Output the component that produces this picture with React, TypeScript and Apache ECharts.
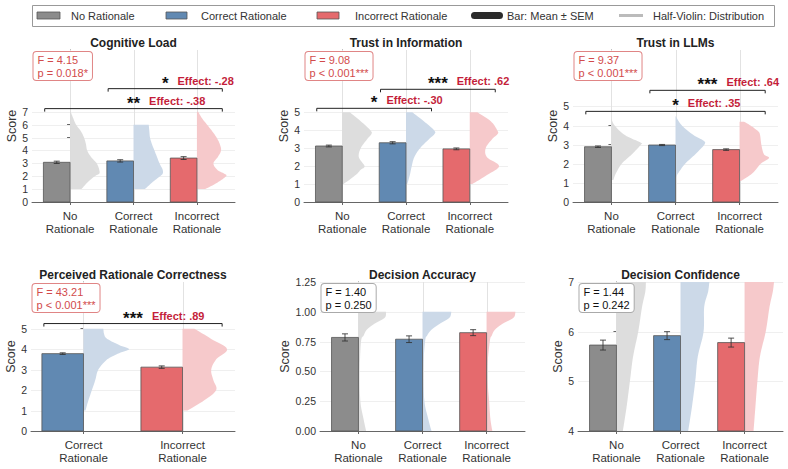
import React, { useEffect, useRef } from "react";
import * as echarts from "echarts";

const FONT = "'Liberation Sans', Arial, Helvetica, sans-serif";

// ---------- categories ----------
const threeGroups = ["No\nRationale", "Correct\nRationale", "Incorrect\nRationale"];
const twoGroups = ["Correct\nRationale", "Incorrect\nRationale"];

// ---------- colours ----------
const barColors = ["#8c8c8c", "#6189b2", "#e56a6d"];
const violinColors = ["#dbdbdb", "#c9d7e7", "#f5c6c8"];

// ---------- Cognitive Load ----------
const cogMeans = [3.08, 3.19, 3.41];
const cogSem = [0.09, 0.09, 0.11];
const cogViolinNo = [[7, 0.01], [6.5, 0.05], [6, 0.095], [5.5, 0.17], [5, 0.22], [4.5, 0.25], [4, 0.27], [3.5, 0.33], [3, 0.42], [2.5, 0.46], [2.2, 0.46], [2, 0.39], [1.5, 0.27], [1, 0.18]];
const cogViolinCorrect = [[6, 0.24], [5.5, 0.25], [5, 0.26], [4.5, 0.29], [4, 0.33], [3.5, 0.37], [3, 0.41], [2.5, 0.46], [2.2, 0.46], [2, 0.42], [1.5, 0.29], [1, 0.18]];
const cogViolinIncorrect = [[7, 0.02], [6.5, 0.08], [6, 0.16], [5.5, 0.24], [5, 0.31], [4.5, 0.36], [4, 0.38], [3.5, 0.33], [3, 0.26], [2.5, 0.32], [2.2, 0.43], [2, 0.46], [1.5, 0.32], [1, 0.13]];
const cogStats = ["F = 4.15", "p = 0.018*"];
const cogBrackets = [
  { a: 1, b: 2, y: 8.8, stars: "*", effect: "Effect: -.28" },
  { a: 0, b: 2, y: 7.25, stars: "**", effect: "Effect: -.38" },
];

// ---------- Trust in Information ----------
const infoMeans = [3.12, 3.3, 2.96];
const infoSem = [0.05, 0.06, 0.05];
const infoViolinNo = [[5, 0.12], [4.5, 0.29], [4, 0.44], [3.8, 0.46], [3.5, 0.39], [3, 0.29], [2.5, 0.26], [2, 0.35], [1.8, 0.29], [1.5, 0.21], [1, 0.02]];
const infoViolinCorrect = [[5, 0.1], [4.5, 0.28], [4, 0.44], [3.8, 0.45], [3.5, 0.36], [3, 0.22], [2.5, 0.13], [2, 0.09], [1.5, 0.06], [1, 0.02]];
const infoViolinIncorrect = [[5, 0.12], [4.5, 0.33], [4, 0.43], [3.8, 0.44], [3.5, 0.35], [3, 0.25], [2.5, 0.27], [2, 0.46], [1.5, 0.27], [1, 0.04]];
const infoStats = ["F = 9.08", "p < 0.001***"];
const infoBrackets = [
  { a: 1, b: 2, y: 6.28, stars: "***", effect: "Effect: .62" },
  { a: 0, b: 1, y: 5.22, stars: "*", effect: "Effect: -.30" },
];

// ---------- Trust in LLMs ----------
const llmMeans = [2.89, 2.98, 2.74];
const llmSem = [0.04, 0.03, 0.04];
const llmViolinNo = [[4.35, 0.0], [4, 0.05], [3.5, 0.21], [3.1, 0.46], [3, 0.46], [2.5, 0.32], [2, 0.16], [1.5, 0.07], [1.15, 0.03]];
const llmViolinCorrect = [[4.5, 0.0], [4, 0.1], [3.5, 0.28], [3.2, 0.44], [3, 0.45], [2.5, 0.31], [2, 0.15], [1.5, 0.04], [1.3, 0.01]];
const llmViolinIncorrect = [[4.2, 0.07], [4, 0.17], [3.7, 0.29], [3.5, 0.32], [3, 0.34], [2.5, 0.38], [2.3, 0.46], [2, 0.33], [1.5, 0.2], [1.1, 0.02]];
const llmStats = ["F = 9.37", "p < 0.001***"];
const llmBrackets = [
  { a: 1, b: 2, y: 5.84, stars: "***", effect: "Effect: .64" },
  { a: 0, b: 2, y: 4.74, stars: "*", effect: "Effect: .35" },
];

// ---------- Perceived Rationale Correctness ----------
const percMeans = [3.78, 3.12];
const percSem = [0.04, 0.06];
const percViolinCorrect = [[5, 0.2], [4.7, 0.21], [4.5, 0.24], [4.2, 0.36], [4, 0.46], [3.8, 0.36], [3.5, 0.24], [3, 0.15], [2.5, 0.12], [2, 0.085], [1.5, 0.05], [1, 0.02]];
const percViolinIncorrect = [[5, 0.12], [4.5, 0.29], [4, 0.45], [3.5, 0.34], [3, 0.29], [2.5, 0.31], [2, 0.34], [1.5, 0.22], [1, 0.05]];
const percStats = ["F = 43.21", "p < 0.001***"];
const percBrackets = [{ a: 0, b: 1, y: 5.25, stars: "***", effect: "Effect: .89" }];

// ---------- Decision Accuracy ----------
const accMeans = [0.785, 0.77, 0.825];
const accSem = [0.03, 0.028, 0.025];
const accViolinNo = [[1, 0.43], [0.95, 0.41], [0.9, 0.25], [0.85, 0.13], [0.8, 0.08], [0.75, 0.04], [0.5, 0.02], [0.25, 0.03], [0.1, 0.08], [0, 0.12]];
const accViolinCorrect = [[1, 0.45], [0.95, 0.42], [0.9, 0.27], [0.85, 0.14], [0.8, 0.07], [0.75, 0.04], [0.5, 0.01], [0.25, 0.03], [0.1, 0.09], [0, 0.14]];
const accViolinIncorrect = [[1, 0.45], [0.95, 0.42], [0.9, 0.25], [0.85, 0.13], [0.8, 0.08], [0.75, 0.05], [0.5, 0.01], [0.25, 0.04], [0.1, 0.06], [0, 0.09]];
const accStats = ["F = 1.40", "p = 0.250"];

// ---------- Decision Confidence ----------
const confMeans = [5.73, 5.92, 5.78];
const confSem = [0.1, 0.08, 0.09];
const confViolinNo = [[7, 0.46], [6.8, 0.45], [6.5, 0.4], [6, 0.34], [5.5, 0.26], [5, 0.21], [4.5, 0.16], [4, 0.1]];
const confViolinCorrect = [[7, 0.45], [6.8, 0.43], [6.5, 0.37], [6, 0.36], [5.5, 0.27], [5, 0.23], [4.5, 0.18], [4, 0.12]];
const confViolinIncorrect = [[7, 0.46], [6.8, 0.44], [6.5, 0.39], [6, 0.33], [5.5, 0.24], [5, 0.2], [4.5, 0.17], [4, 0.14]];
const confStats = ["F = 1.44", "p = 0.242"];

// ---------- tick labels ----------
const cogTicks = [0, 1, 2, 3, 4, 5, 6, 7];
const fiveTicks = [0, 1, 2, 3, 4, 5];
const accTicks = [0, 0.25, 0.5, 0.75, 1, 1.25];
const confTicks = [4, 5, 6, 7];

type Panel = {
  title: string;
  grid: { left: number; top: number; width: number; height: number };
  xMin: number; xMax: number; yMin: number; yMax: number;
  yTicks: number[]; yFmt: (v: number) => string; nameGap: number;
  cats: string[]; colorIdx: number[];
  means: number[]; sem: number[]; violins: number[][][];
  stats: string[]; significant: boolean; brackets: any[];
};

const int = (v: number) => String(v);
const two = (v: number) => v.toFixed(2);

const panels: Panel[] = [
  { title: "Cognitive Load", grid: { left: 32, top: 50, width: 203, height: 152 }, xMin: -0.6, xMax: 2.6, yMin: 0, yMax: 11.8,
    yTicks: cogTicks, yFmt: int, nameGap: 12, cats: threeGroups, colorIdx: [0, 1, 2], means: cogMeans, sem: cogSem,
    violins: [cogViolinNo, cogViolinCorrect, cogViolinIncorrect], stats: cogStats, significant: true, brackets: cogBrackets },
  { title: "Trust in Information", grid: { left: 304, top: 50, width: 204, height: 152 }, xMin: -0.6, xMax: 2.6, yMin: 0, yMax: 8.47,
    yTicks: fiveTicks, yFmt: int, nameGap: 12, cats: threeGroups, colorIdx: [0, 1, 2], means: infoMeans, sem: infoSem,
    violins: [infoViolinNo, infoViolinCorrect, infoViolinIncorrect], stats: infoStats, significant: true, brackets: infoBrackets },
  { title: "Trust in LLMs", grid: { left: 573, top: 50, width: 205, height: 152 }, xMin: -0.6, xMax: 2.6, yMin: 0, yMax: 7.95,
    yTicks: fiveTicks, yFmt: int, nameGap: 12, cats: threeGroups, colorIdx: [0, 1, 2], means: llmMeans, sem: llmSem,
    violins: [llmViolinNo, llmViolinCorrect, llmViolinIncorrect], stats: llmStats, significant: true, brackets: llmBrackets },
  { title: "Perceived Rationale Correctness", grid: { left: 31, top: 282, width: 204, height: 149 }, xMin: -0.53, xMax: 1.53, yMin: 0, yMax: 7.28,
    yTicks: fiveTicks, yFmt: int, nameGap: 12, cats: twoGroups, colorIdx: [1, 2], means: percMeans, sem: percSem,
    violins: [percViolinCorrect, percViolinIncorrect], stats: percStats, significant: true, brackets: percBrackets },
  { title: "Decision Accuracy", grid: { left: 320, top: 282, width: 205, height: 149 }, xMin: -0.6, xMax: 2.6, yMin: 0, yMax: 1.25,
    yTicks: accTicks, yFmt: two, nameGap: 26, cats: threeGroups, colorIdx: [0, 1, 2], means: accMeans, sem: accSem,
    violins: [accViolinNo, accViolinCorrect, accViolinIncorrect], stats: accStats, significant: false, brackets: [] },
  { title: "Decision Confidence", grid: { left: 578, top: 282, width: 205, height: 149 }, xMin: -0.6, xMax: 2.6, yMin: 4, yMax: 7,
    yTicks: confTicks, yFmt: int, nameGap: 12, cats: threeGroups, colorIdx: [0, 1, 2], means: confMeans, sem: confSem,
    violins: [confViolinNo, confViolinCorrect, confViolinIncorrect], stats: confStats, significant: false, brackets: [] },
];

const BAR_W = 0.42;

// Catmull-Rom smoothing of a violin outline (rendering only; the profile points stay as read)
function smoothOutline(prof: number[][], steps = 8): number[][] {
  const out: number[][] = [];
  const n = prof.length;
  for (let i = 0; i < n - 1; i++) {
    const p0 = prof[Math.max(0, i - 1)], p1 = prof[i], p2 = prof[i + 1], p3 = prof[Math.min(n - 1, i + 2)];
    for (let s = 0; s < steps; s++) {
      const t = s / steps, t2 = t * t, t3 = t2 * t;
      const f = (a: number, b: number, c: number, d: number) =>
        0.5 * (2 * b + (-a + c) * t + (2 * a - 5 * b + 4 * c - d) * t2 + (-a + 3 * b - 3 * c + d) * t3);
      out.push([f(p0[0], p1[0], p2[0], p3[0]), Math.max(0, f(p0[1], p1[1], p2[1], p3[1]))]);
    }
  }
  out.push(prof[n - 1]);
  return out;
}

function buildOption() {
  const grid: any[] = [];
  const xAxis: any[] = [];
  const yAxis: any[] = [];
  const series: any[] = [];
  const graphic: any[] = [];

  panels.forEach((p, k) => {
    grid.push({ ...p.grid, containLabel: false });
    const catVals = p.cats.map((_, i) => i);
    xAxis.push({
      gridIndex: k, type: "value", min: p.xMin, max: p.xMax,
      axisLine: { show: true, lineStyle: { color: "#666", width: 1 } },
      axisTick: { show: true, customValues: catVals, length: 3, lineStyle: { color: "#666" } },
      axisLabel: { show: true, customValues: catVals, formatter: (v: number) => p.cats[Math.round(v)] ?? "",
        fontFamily: FONT, fontSize: 11.5, color: "#333", lineHeight: 13.5, margin: 7 },
      splitLine: { show: false },
    });
    yAxis.push({
      gridIndex: k, type: "value", min: p.yMin, max: p.yMax,
      name: "Score", nameLocation: "middle", nameGap: p.nameGap, nameRotate: 90,
      nameTextStyle: { fontFamily: FONT, fontSize: 12.5, color: "#333" },
      axisLine: { show: true, lineStyle: { color: "#666", width: 1 } },
      axisTick: { show: true, customValues: p.yTicks, length: 3, lineStyle: { color: "#666" } },
      axisLabel: { show: true, customValues: p.yTicks, formatter: (v: number) => p.yFmt(v),
        fontFamily: FONT, fontSize: 10.5, color: "#333", margin: 4 },
      splitLine: { show: false },
    });

    // background grid lines
    series.push({
      type: "custom", xAxisIndex: k, yAxisIndex: k, z: 1, silent: true,
      data: [[0, p.yMin]],
      renderItem: (params: any, api: any) => {
        const cs = params.coordSys;
        const children: any[] = [];
        p.yTicks.forEach((t) => {
          if (t === p.yMin) return;
          const c = api.coord([p.xMin, t]);
          const yy = Math.round(c[1]) + 0.5;
          children.push({ type: "line", shape: { x1: cs.x, y1: yy, x2: cs.x + cs.width, y2: yy },
            style: { stroke: "#efefef", lineWidth: 1 } });
        });
        p.cats.forEach((_, i) => {
          const c = api.coord([i, p.yMin]);
          const xx = Math.round(c[0]) + 0.5;
          children.push({ type: "line", shape: { x1: xx, y1: cs.y, x2: xx, y2: cs.y + cs.height },
            style: { stroke: "#e2e2e2", lineWidth: 1 } });
        });
        return { type: "group", children };
      },
    });

    // half violins
    series.push({
      type: "custom", xAxisIndex: k, yAxisIndex: k, z: 2, silent: true,
      data: p.cats.map((_, i) => [i, p.yMin]),
      renderItem: (params: any, api: any) => {
        const i = params.dataIndex;
        const prof = smoothOutline(p.violins[i]);
        const pts: number[][] = [];
        pts.push(api.coord([i, prof[0][0]]));
        prof.forEach(([y, w]) => pts.push(api.coord([i + w, y])));
        pts.push(api.coord([i, prof[prof.length - 1][0]]));
        return { type: "polygon", shape: { points: pts },
          style: { fill: violinColors[p.colorIdx[i]], stroke: "none", opacity: 0.95 } };
      },
    });

    // bars + error bars
    series.push({
      type: "custom", xAxisIndex: k, yAxisIndex: k, z: 3, silent: true,
      data: p.means.map((m, i) => [i, m, p.sem[i]]),
      renderItem: (params: any, api: any) => {
        const i = api.value(0), m = api.value(1), s = api.value(2);
        const tl = api.coord([i - BAR_W, m]);
        const br = api.coord([i, p.yMin]);
        const xc = i - BAR_W / 2;
        const et = api.coord([xc, m + s]);
        const eb = api.coord([xc, m - s]);
        const col = barColors[p.colorIdx[params.dataIndex]];
        const errStyle = { stroke: "#333", lineWidth: 1, opacity: 0.85 };
        return {
          type: "group",
          children: [
            { type: "rect", shape: { x: tl[0], y: tl[1], width: br[0] - tl[0], height: br[1] - tl[1] },
              style: { fill: col, stroke: "#555", lineWidth: 0.8 } },
            { type: "line", shape: { x1: et[0], y1: et[1], x2: eb[0], y2: eb[1] }, style: errStyle },
            { type: "line", shape: { x1: et[0] - 3, y1: et[1], x2: et[0] + 3, y2: et[1] }, style: errStyle },
            { type: "line", shape: { x1: eb[0] - 3, y1: eb[1], x2: eb[0] + 3, y2: eb[1] }, style: errStyle },
          ],
        };
      },
    });

    // significance brackets
    if (p.brackets.length) {
      series.push({
        type: "custom", xAxisIndex: k, yAxisIndex: k, z: 4, silent: true,
        data: p.brackets.map((b, j) => [j, b.y]),
        renderItem: (params: any, api: any) => {
          const b = p.brackets[params.dataIndex];
          const l = api.coord([b.a - 0.4, b.y]);
          const r = api.coord([b.b + 0.4, b.y]);
          const mid = api.coord([(b.a + b.b) / 2, b.y]);
          const n = b.stars.length;
          return {
            type: "group",
            children: [
              { type: "polyline", shape: { points: [[l[0], l[1] + 3], [l[0], l[1]], [r[0], r[1]], [r[0], r[1] + 3]] },
                style: { stroke: "#222", lineWidth: 1, fill: "none" } },
              { type: "text", x: mid[0], y: mid[1] + 3,
                style: { text: b.stars, fill: "#111", fontFamily: FONT, fontSize: 17, fontWeight: "bold",
                  align: "center", verticalAlign: "bottom" } },
              { type: "text", x: mid[0] + 9 + 3.3 * n, y: mid[1] - 8,
                style: { text: b.effect, fill: "#c41e3a", fontFamily: FONT, fontSize: 11, fontWeight: "bold",
                  align: "left", verticalAlign: "middle" } },
            ],
          };
        },
      });
    }

    // stats box
    series.push({
      type: "custom", xAxisIndex: k, yAxisIndex: k, z: 5, silent: true,
      data: [[p.xMin, p.yMax]],
      renderItem: (params: any, api: any) => {
        const c = api.coord([p.xMin, p.yMax]);
        return {
          type: "text", x: c[0] + 1.5, y: c[1] + 2,
          style: {
            text: p.stats.join("\n"), fill: p.significant ? "#d24b4b" : "#111",
            fontFamily: FONT, fontSize: 11, lineHeight: 12.5, align: "left", verticalAlign: "top",
            backgroundColor: "#ffffff", borderColor: p.significant ? "#e08585" : "#aaaaaa", borderWidth: 1,
            borderRadius: 3, padding: [2, 4, 1, 4],
          },
        };
      },
    });

    // title
    graphic.push({
      type: "text", x: p.grid.left + p.grid.width / 2, y: p.grid.top - 7,
      style: { text: p.title, fontFamily: FONT, fontSize: 12, fontWeight: "bold", fill: "#222",
        align: "center", verticalAlign: "middle" },
    });
  });

  // legend
  const legendY = 15.5;
  graphic.push(
    { type: "rect", shape: { x: 32.5, y: 5.5, width: 742, height: 21 }, style: { fill: "#fff", stroke: "#999", lineWidth: 1 } },
    { type: "rect", shape: { x: 37, y: 12, width: 23, height: 7 }, style: { fill: barColors[0], stroke: "#555", lineWidth: 0.8 } },
    { type: "text", x: 71, y: legendY, style: { text: "No Rationale", fontFamily: FONT, fontSize: 11, fill: "#333", verticalAlign: "middle" } },
    { type: "rect", shape: { x: 166, y: 12, width: 21, height: 7 }, style: { fill: barColors[1], stroke: "#555", lineWidth: 0.8 } },
    { type: "text", x: 201, y: legendY, style: { text: "Correct Rationale", fontFamily: FONT, fontSize: 11, fill: "#333", verticalAlign: "middle" } },
    { type: "rect", shape: { x: 317, y: 12, width: 22, height: 7 }, style: { fill: barColors[2], stroke: "#555", lineWidth: 0.8 } },
    { type: "text", x: 355, y: legendY, style: { text: "Incorrect Rationale", fontFamily: FONT, fontSize: 11, fill: "#333", verticalAlign: "middle" } },
    { type: "rect", shape: { x: 471, y: 12, width: 32, height: 7, r: 3.5 }, style: { fill: "#2b2b2b" } },
    { type: "text", x: 507, y: legendY, style: { text: "Bar: Mean ± SEM", fontFamily: FONT, fontSize: 11, fill: "#333", verticalAlign: "middle" } },
    { type: "line", shape: { x1: 619, y1: legendY, x2: 643, y2: legendY }, style: { stroke: "#bbb", lineWidth: 3 } },
    { type: "text", x: 653, y: legendY, style: { text: "Half-Violin: Distribution", fontFamily: FONT, fontSize: 11, fill: "#333", verticalAlign: "middle" } },
  );

  return {
    animation: false,
    backgroundColor: "#ffffff",
    textStyle: { fontFamily: FONT },
    grid, xAxis, yAxis, series, graphic,
  };
}

export default function App() {
  const ref = useRef<HTMLDivElement>(null);
  useEffect(() => {
    if (!ref.current) return;
    const chart = echarts.init(ref.current, undefined, { renderer: "svg" });
    chart.setOption(buildOption() as any);
    return () => chart.dispose();
  }, []);
  return <div ref={ref} style={{ position: "fixed", left: 0, top: 0, width: 788, height: 469 }} />;
}
